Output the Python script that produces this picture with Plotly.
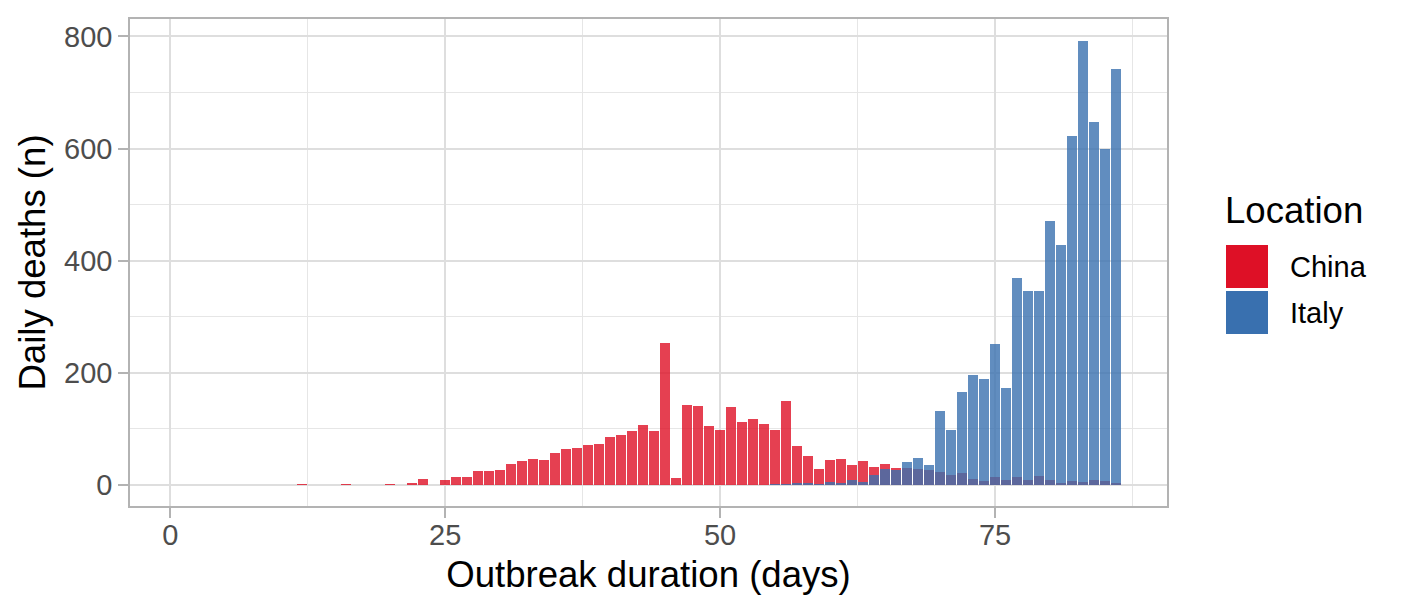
import plotly.graph_objects as go

# ---- data ----
china_days = [12, 16, 20, 22, 23, 25, 26, 27, 28, 29, 30, 31, 32, 33, 34, 35, 36, 37, 38, 39,
              40, 41, 42, 43, 44, 45, 46, 47, 48, 49, 50, 51, 52, 53, 54, 55, 56, 57, 58, 59,
              60, 61, 62, 63, 64, 65, 66, 67, 68, 69, 70, 71, 72, 73, 74, 75, 76, 77, 78, 79,
              80, 81, 82, 83, 84, 85, 86]
china_deaths = [1, 1, 1, 4, 11, 8, 14, 14, 25, 25, 27, 38, 43, 46, 45, 57, 64, 66, 72, 73,
                86, 89, 97, 107, 97, 254, 13, 142, 141, 105, 98, 139, 112, 117, 108, 98, 150, 69, 52, 28,
                44, 46, 35, 42, 32, 37, 30, 30, 28, 27, 23, 17, 21, 10, 7, 14, 8, 14, 8, 16,
                8, 3, 7, 5, 8, 7, 3]

italy_days = [55, 56, 57, 58, 59, 60, 61, 62, 63, 64, 65, 66, 67, 68, 69, 70, 71, 72, 73, 74,
              75, 76, 77, 78, 79, 80, 81, 82, 83, 84, 85, 86]
italy_deaths = [1, 1, 4, 3, 2, 5, 4, 8, 5, 18, 28, 27, 41, 48, 36, 132, 98, 166, 196, 189,
                251, 173, 370, 346, 346, 471, 428, 622, 792, 648, 600, 741]

locations = ["China", "Italy"]
colors = {"China": "rgb(222,16,38)", "Italy": "rgb(57,112,175)"}
bar_alpha = 0.8

x_ticks = [0, 25, 50, 75]
y_ticks = [0, 200, 400, 600, 800]

FONT = "Liberation Sans, Arial, sans-serif"

def rgba(c, a):
    return c.replace("rgb(", "rgba(").replace(")", f",{a})")

fig = go.Figure()
fig.add_trace(go.Bar(x=china_days, y=china_deaths, name="China", width=0.9,
                     marker=dict(color=rgba(colors["China"], bar_alpha), line=dict(width=0)),
                     showlegend=False))
fig.add_trace(go.Bar(x=italy_days, y=italy_deaths, name="Italy", width=0.9,
                     marker=dict(color=rgba(colors["Italy"], bar_alpha), line=dict(width=0)),
                     showlegend=False))

L, R, T, B = 130, 237, 19, 108
W, H = 1404, 614
pw, ph = W - L - R, H - T - B

def xp(px):
    return (px - L) / pw

def yp(py):
    return (H - B - py) / ph

axis_common = dict(
    showline=True, mirror=True, linecolor="#B3B3B3", linewidth=1.6,
    ticks="outside", ticklen=10, tickwidth=1.5, tickcolor="#B3B3B3",
    showgrid=True, gridcolor="#DEDEDE", gridwidth=1.5, zeroline=False,
    tickfont=dict(family=FONT, size=29, color="#4D4D4D"),
)

fig.update_layout(
    width=W, height=H,
    margin=dict(l=L, r=R, t=T, b=B, pad=0),
    paper_bgcolor="white", plot_bgcolor="white",
    barmode="overlay", bargap=0,
    font=dict(family=FONT),
    xaxis=dict(
        range=[-3.66, 90.64], tickmode="array", tickvals=x_ticks,
        ticktext=[str(v) for v in x_ticks],
        ticklabelstandoff=-8,
        minor=dict(tickmode="linear", tick0=12.5, dtick=25, showgrid=True,
                   gridcolor="#E6E6E6", gridwidth=1, ticks=""),
        title=dict(text="Outbreak duration (days)", standoff=12,
                   font=dict(family=FONT, size=36.6, color="black")),
        **axis_common,
    ),
    yaxis=dict(
        range=[-37.5, 831], tickmode="array", tickvals=y_ticks,
        ticktext=[str(v) for v in y_ticks],
        minor=dict(tickmode="linear", tick0=100, dtick=200, showgrid=True,
                   gridcolor="#E6E6E6", gridwidth=1, ticks=""),
        title=dict(text="Daily deaths (n)", standoff=7,
                   font=dict(family=FONT, size=36.6, color="black")),
        **axis_common,
    ),
)

# ---- manual legend (large ggplot-style keys) ----
fig.add_annotation(text="Location", xref="paper", yref="paper",
                   x=xp(1223), y=yp(210), xanchor="left", yanchor="middle",
                   showarrow=False, font=dict(family=FONT, size=36.6, color="black"))
key_tops = [245, 291]
for loc, top in zip(locations, key_tops):
    fig.add_shape(type="rect", xref="paper", yref="paper",
                  x0=xp(1226), x1=xp(1268), y0=yp(top), y1=yp(top + 43),
                  fillcolor=colors[loc], line=dict(width=0))
    fig.add_annotation(text=loc, xref="paper", yref="paper",
                       x=xp(1288), y=yp(top + 21.5), xanchor="left", yanchor="middle",
                       showarrow=False, font=dict(family=FONT, size=29, color="black"))

fig.write_html("out.html")
